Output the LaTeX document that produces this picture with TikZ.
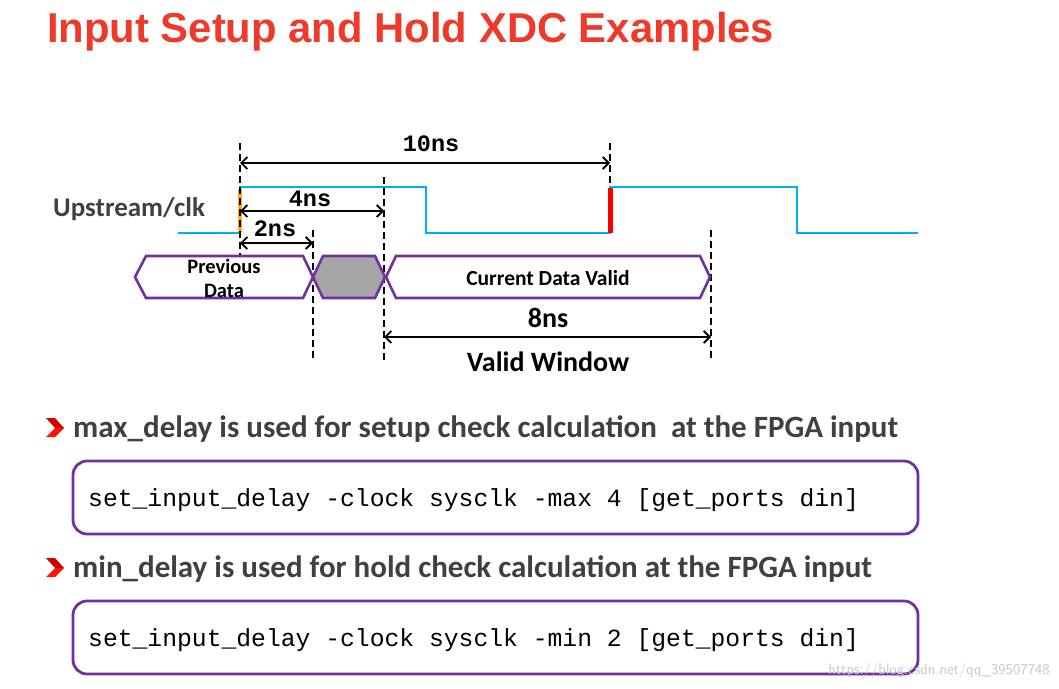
\documentclass[tikz,border=0pt]{standalone}
\usepackage{fontspec}
\setmainfont{Carlito}
\newfontfamily\titlefont{Liberation Sans}
\newfontfamily\codefont{Liberation Mono}
\usetikzlibrary{arrows.meta, positioning}
\definecolor{clkblue}{HTML}{00B0F0}
\definecolor{buspurple}{HTML}{7030A0}
\definecolor{titlered}{HTML}{EE3A2A}
\definecolor{textgray}{HTML}{404040}
\definecolor{hatchgray}{HTML}{A6A6A6}
\definecolor{markorange}{HTML}{FFB000}

\begin{document}
\begin{tikzpicture}[x=1pt, y=-1pt,
    clk/.style={clkblue, line width=2.6pt},
    bus/.style={buspurple, line width=2.6pt, line join=miter},
    guide/.style={line width=1.9pt, dash pattern=on 7pt off 4pt},
    dim/.style={{Straight Barb[length=6pt,width=12pt]}-{Straight Barb[length=6pt,width=12pt]}, line width=1.8pt},
    lbl/.style={font=\bfseries\fontsize{28}{28}\selectfont},
    dimlbl/.style={font=\codefont\bfseries\fontsize{23.5}{23.5}\selectfont},
    codebox/.style={buspurple, line width=2.8pt, rounded corners=14pt},
    codetxt/.style={anchor=base west, inner sep=0pt, font=\codefont\fontsize{24.7}{24.7}\selectfont},
    bullet/.style={anchor=base west, inner sep=0pt, text=textgray, font=\bfseries\fontsize{31}{31}\selectfont}]

    \useasboundingbox (0,0) rectangle (1059,688);

    % Title
    \node[anchor=base west, inner sep=0pt, text=titlered, font=\titlefont\bfseries\fontsize{41.8}{41.8}\selectfont] (title) at (47,42) {Input Setup and Hold XDC Examples};

    % Clock
    \node[anchor=base west, inner sep=0pt, text=textgray, font=\bfseries\fontsize{27}{27}\selectfont] (clkname) at (53,216) {Upstream/clk};
    \draw[clk] (178,233) -- (240,233) -- (240,187) -- (426,187) -- (426,233) -- (610,233)
        -- (610,187) -- (797,187) -- (797,233) -- (918,233);
    \draw[markorange, line width=4.5pt] (240,189) -- (240,232);
    \draw[red, line width=5pt] (610,188) -- (610,233);

    % Time marks
    \coordinate (t0top) at (240,143);
    \coordinate (t0bot) at (240,257);
    \coordinate (t10top) at (610,143);
    \coordinate (t10bot) at (610,187);
    \coordinate (t2top) at (313,230);
    \coordinate (t2bot) at (313,360);
    \coordinate (t4top) at (384,177);
    \coordinate (t4bot) at (384,360);
    \coordinate (t8top) at (711,230);
    \coordinate (t8bot) at (711,360);
    \draw[guide] (t0top) -- (t0bot);
    \draw[guide] (t10top) -- (t10bot);
    \draw[guide] (t2top) -- (t2bot);
    \draw[guide] (t4top) -- (t4bot);
    \draw[guide] (t8top) -- (t8bot);

    % Data bus
    \draw[bus] (135,277) -- (146,256) -- (303,256) -- (313,277) -- (303,298) -- (146,298) -- cycle;
    \draw[bus, fill=hatchgray] (313,277) -- (323,256) -- (375,256) -- (385,277) -- (375,298) -- (323,298) -- cycle;
    \draw[bus] (386,277) -- (396,256) -- (700,256) -- (710,277) -- (700,298) -- (396,298) -- cycle;
    \node[align=center, inner sep=0pt, font=\bfseries\fontsize{20.5}{24}\selectfont] (prevdata) at (224,278) {Previous\\Data};
    \node[inner sep=0pt, font=\bfseries\fontsize{21.5}{21.5}\selectfont] (curdata) at (548,278) {Current Data Valid};

    % Dimensions
    \draw[dim] (240,163) -- (610,163);
    \node[dimlbl] (l10) at (431,144) {10ns};
    \draw[dim] (240,211) -- (384,211);
    \node[dimlbl] (l4) at (310,199) {4ns};
    \draw[dim] (240,243) -- (313,243);
    \node[dimlbl] (l2) at (275,229) {2ns};
    \draw[dim] (384,337) -- (711,337);
    \node[lbl] (l8) at (548,318) {8ns};
    \node[lbl] (validwin) at (548,362) {Valid Window};

    % Bullets and code
    \fill[red!80!black] (46,418) -- (55,418) -- (64,428) -- (55,428) -- cycle;
    \fill[red!85!orange] (46,437) -- (55,437) -- (64,428) -- (55,428) -- cycle;
    \node[bullet] (maxtxt) at (73,437) {max\_delay is used for setup check calculation\ \ at the FPGA input};
    \draw[codebox] (73,461) rectangle (918,534);
    \node[codetxt] (maxcode) at (88,506) {set\_input\_delay -clock sysclk -max 4 [get\_ports din]};

    \fill[red!80!black] (46,558) -- (55,558) -- (64,568) -- (55,568) -- cycle;
    \fill[red!85!orange] (46,577) -- (55,577) -- (64,568) -- (55,568) -- cycle;
    \node[bullet] (mintxt) at (73,577) {min\_delay is used for hold check calculation at the FPGA input};
    \draw[codebox] (73,601) rectangle (918,674);
    \node[codetxt] (mincode) at (88,646) {set\_input\_delay -clock sysclk -min 2 [get\_ports din]};

    \node[anchor=base east, inner sep=0pt, text=black!22, font=\sffamily\fontsize{15}{15}\selectfont] (wmark) at (1050,674) {https://blog.csdn.net/qq\_39507748};

\end{tikzpicture}
\end{document}
